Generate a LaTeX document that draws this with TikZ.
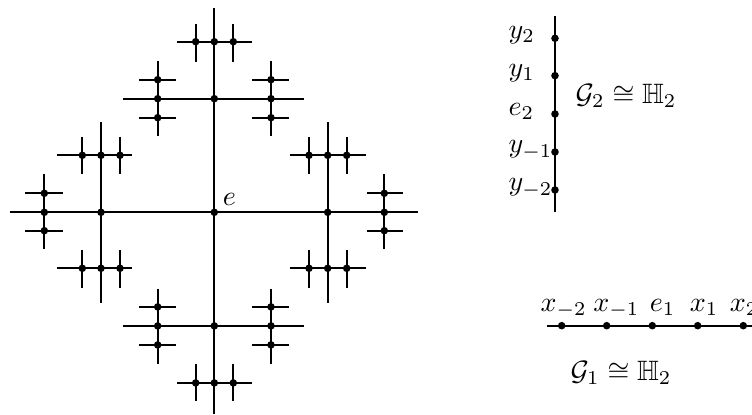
\documentclass[tikz,border=0pt]{standalone}
\usepackage{amsmath,amssymb}
\tikzset{
  ln/.style={line width=0.8pt},
  dot/.style={circle,fill=black,inner sep=0pt,minimum size=2.7pt},
  lbl/.style={inner sep=0pt,anchor=base west}
}
\newcommand{\myhseg}[4]{\coordinate (#1a) at (#2,#4); \coordinate (#1b) at (#3,#4); \draw[ln] (#1a) -- (#1b);}
\newcommand{\myvseg}[4]{\coordinate (#1a) at (#4,#2); \coordinate (#1b) at (#4,#3); \draw[ln] (#1a) -- (#1b);}
\newcommand{\mydot}[3]{\node[dot] (#1) at (#2,#3) {};}
\begin{document}
\begin{tikzpicture}[x=0.3571pt,y=-0.3571pt]
\useasboundingbox (0,0) rectangle (752,415);
% main axes
\myhseg{H0}{10}{418.3}{212.3}
\myvseg{V0}{8}{414.3}{214.3}
% top branch
\myhseg{TA}{123.3}{304.3}{98.7}
\myvseg{TB}{61}{136}{157.7}
\myvseg{TC}{61}{136}{271}
\myhseg{TD}{139}{176}{79.7}
\myhseg{TE}{139}{176}{117.7}
\myhseg{TF}{252.3}{289.3}{79.7}
\myhseg{TG}{252.3}{289.3}{117.7}
\myhseg{TH}{177}{252}{41.7}
\myvseg{TI}{24}{61.7}{195.7}
\myvseg{TJ}{24}{61.7}{233.3}
% bottom branch
\myhseg{BA}{123.3}{304.3}{325.9}
\myvseg{BB}{288.6}{363.6}{157.7}
\myvseg{BC}{288.6}{363.6}{271}
\myhseg{BD}{139}{176}{306.9}
\myhseg{BE}{139}{176}{344.9}
\myhseg{BF}{252.3}{289.3}{306.9}
\myhseg{BG}{252.3}{289.3}{344.9}
\myhseg{BH}{177}{252}{382.9}
\myvseg{BI}{363.6}{401.3}{195.7}
\myvseg{BJ}{363.6}{401.3}{233.3}
% left branch
\myvseg{LA}{122.3}{303.3}{101}
\myhseg{LB}{56.7}{131.7}{155.3}
\myhseg{LC}{56.7}{131.7}{268.3}
\myvseg{LD}{136.7}{174.3}{82.3}
\myvseg{LE}{136.7}{174.3}{120}
\myvseg{LF}{250}{287.7}{82.3}
\myvseg{LG}{250}{287.7}{120}
\myvseg{LH}{174.3}{249.3}{44.3}
\myhseg{LI}{25}{62.7}{193.3}
\myhseg{LJ}{25}{62.7}{230.7}
% right branch
\myvseg{RA}{122.3}{303.3}{327.7}
\myhseg{RB}{290}{365.7}{155.3}
\myhseg{RC}{290}{365.7}{268.3}
\myvseg{RD}{136.7}{174.3}{309}
\myvseg{RE}{136.7}{174.3}{346.7}
\myvseg{RF}{250}{287.7}{309}
\myvseg{RG}{250}{287.7}{346.7}
\myvseg{RH}{174.3}{249.3}{384.3}
\myhseg{RI}{366.7}{403.3}{193.3}
\myhseg{RJ}{366.7}{403.3}{230.7}
% dots: axes
\mydot{e}{214.3}{212.3}
\mydot{m1}{44.3}{212.3}
\mydot{m2}{101}{212.3}
\mydot{m3}{327.7}{212.3}
\mydot{m4}{384.3}{212.3}
\mydot{m5}{214.3}{41.7}
\mydot{m6}{214.3}{98.7}
\mydot{m7}{214.3}{325.9}
\mydot{m8}{214.3}{382.9}
% dots: top
\mydot{t1}{157.7}{98.7}
\mydot{t2}{271}{98.7}
\mydot{t3}{157.7}{79.7}
\mydot{t4}{157.7}{117.7}
\mydot{t5}{271}{79.7}
\mydot{t6}{271}{117.7}
\mydot{t7}{195.7}{41.7}
\mydot{t8}{233.3}{41.7}
% dots: bottom
\mydot{b1}{157.7}{325.9}
\mydot{b2}{271}{325.9}
\mydot{b3}{157.7}{306.9}
\mydot{b4}{157.7}{344.9}
\mydot{b5}{271}{306.9}
\mydot{b6}{271}{344.9}
\mydot{b7}{195.7}{382.9}
\mydot{b8}{233.3}{382.9}
% dots: left
\mydot{l1}{101}{155.3}
\mydot{l2}{101}{268.3}
\mydot{l3}{82.3}{155.3}
\mydot{l4}{120}{155.3}
\mydot{l5}{82.3}{268.3}
\mydot{l6}{120}{268.3}
\mydot{l7}{44.3}{193.3}
\mydot{l8}{44.3}{230.7}
% dots: right
\mydot{r1}{327.7}{155.3}
\mydot{r2}{327.7}{268.3}
\mydot{r3}{309}{155.3}
\mydot{r4}{346.7}{155.3}
\mydot{r5}{309}{268.3}
\mydot{r6}{346.7}{268.3}
\mydot{r7}{384.3}{193.3}
\mydot{r8}{384.3}{230.7}
\node[inner sep=0pt] (elbl) at (229.5,199) {$e$};
% G2
\myvseg{GV}{16}{211.7}{555}
\mydot{y2}{555}{38.3}
\mydot{y1}{555}{75.7}
\mydot{e2}{555}{114}
\mydot{ym1}{555}{152}
\mydot{ym2}{555}{190}
\node[lbl] (ly2) at (508,38.8) {$y_2$};
\node[lbl] (ly1) at (508,76.2) {$y_1$};
\node[lbl] (le2) at (508,115.5) {$e_2$};
\node[lbl] (lym1) at (508,153) {$y_{-1}$};
\node[lbl] (lym2) at (508,191) {$y_{-2}$};
\node[inner sep=0pt,anchor=west] (g2) at (575,96) {$\mathcal{G}_2\cong\mathbb{H}_2$};
% G1
\myhseg{GH}{547.3}{770}{325.7}
\mydot{xm2}{561.7}{325.7}
\mydot{xm1}{606.7}{325.7}
\mydot{e1}{652.3}{325.7}
\mydot{x1}{697.7}{325.7}
\mydot{x2}{743.3}{325.7}
\node[lbl] (lxm2) at (540,311.7) {$x_{-2}$};
\node[lbl] (lxm1) at (592.7,311.7) {$x_{-1}$};
\node[lbl] (le1) at (649.3,311.7) {$e_1$};
\node[lbl] (lx1) at (689.3,311.7) {$x_1$};
\node[lbl] (lx2) at (729.3,311.7) {$x_2$};
\node[inner sep=0pt,anchor=west] (g1) at (570,373) {$\mathcal{G}_1\cong\mathbb{H}_2$};
\end{tikzpicture}
\end{document}
